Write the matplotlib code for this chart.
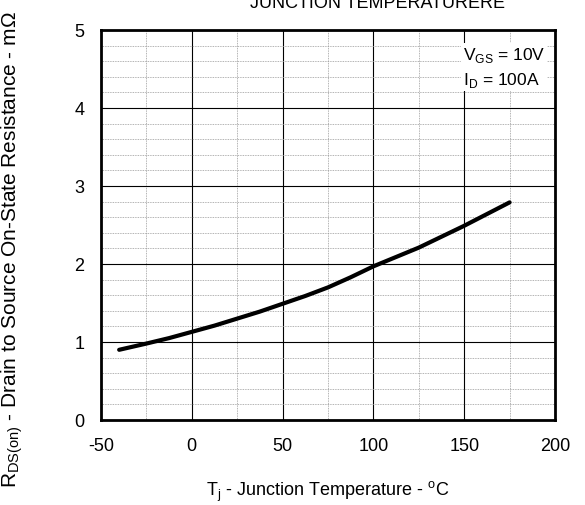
import numpy as np
import matplotlib.pyplot as plt
from matplotlib.ticker import MultipleLocator

plt.rcParams['font.family'] = ['Liberation Sans', 'DejaVu Sans']
plt.rcParams['axes.unicode_minus'] = False
plt.rcParams['mathtext.fontset'] = 'custom'
plt.rcParams['mathtext.rm'] = 'Liberation Sans'

# curve
temp = [-40, -25, -12.5, 0, 12.5, 25, 37.5, 50, 62.5, 75, 87.5, 100,
        112.5, 125, 137.5, 150, 162.5, 175]
rds = [0.90, 0.98, 1.05, 1.13, 1.21, 1.30, 1.39, 1.49, 1.59, 1.70, 1.83, 1.97,
       2.09, 2.21, 2.35, 2.49, 2.64, 2.79]
xticks = [-50, 0, 50, 100, 150, 200]
yticks = [0, 1, 2, 3, 4, 5]

fig = plt.figure(figsize=(5.85, 5.06), dpi=100)
ax = fig.add_axes([101/585, 1 - 421/506, (555-101)/585, (421-31)/506])

ax.plot(temp, rds, color='black', lw=3, zorder=4, solid_capstyle='round')

ax.set_xlim(-50, 200)
ax.set_ylim(0, 5)
ax.set_xticks(xticks)
ax.set_yticks(yticks)
ax.xaxis.set_minor_locator(MultipleLocator(25))
ax.yaxis.set_minor_locator(MultipleLocator(0.2))
ax.grid(which='major', color='black', lw=0.8)
ax.grid(which='minor', color='#999999', lw=0.6, ls=(0, (1, 1)))
ax.tick_params(which='both', length=0, labelsize=13, pad=12)
for s in ax.spines.values():
    s.set_linewidth(2)
    s.set_zorder(5)

ax.set_xlabel(r'T$_\mathregular{j}$ - Junction Temperature - $^\mathregular{o}$C', fontsize=13, labelpad=18)
ax.set_ylabel(r'R$_\mathregular{DS(on)}$ - Drain to Source On-State Resistance - mΩ', fontsize=15)
ax.yaxis.set_label_coords(-0.168, 0.44)

ax.text(0.797, 0.962, 'V$_\\mathregular{GS}$ = 10V\nI$_\\mathregular{D}$ = 100A', transform=ax.transAxes,
        ha='left', va='top', fontsize=12.5, linespacing=1.45,
        bbox=dict(facecolor='white', edgecolor='none', pad=1), zorder=6)

fig.text(250/585, 1 - 8/506, 'JUNCTION TEMPERATURERE', fontsize=13, va='baseline', ha='left')

fig.savefig('out.png', dpi=100)
